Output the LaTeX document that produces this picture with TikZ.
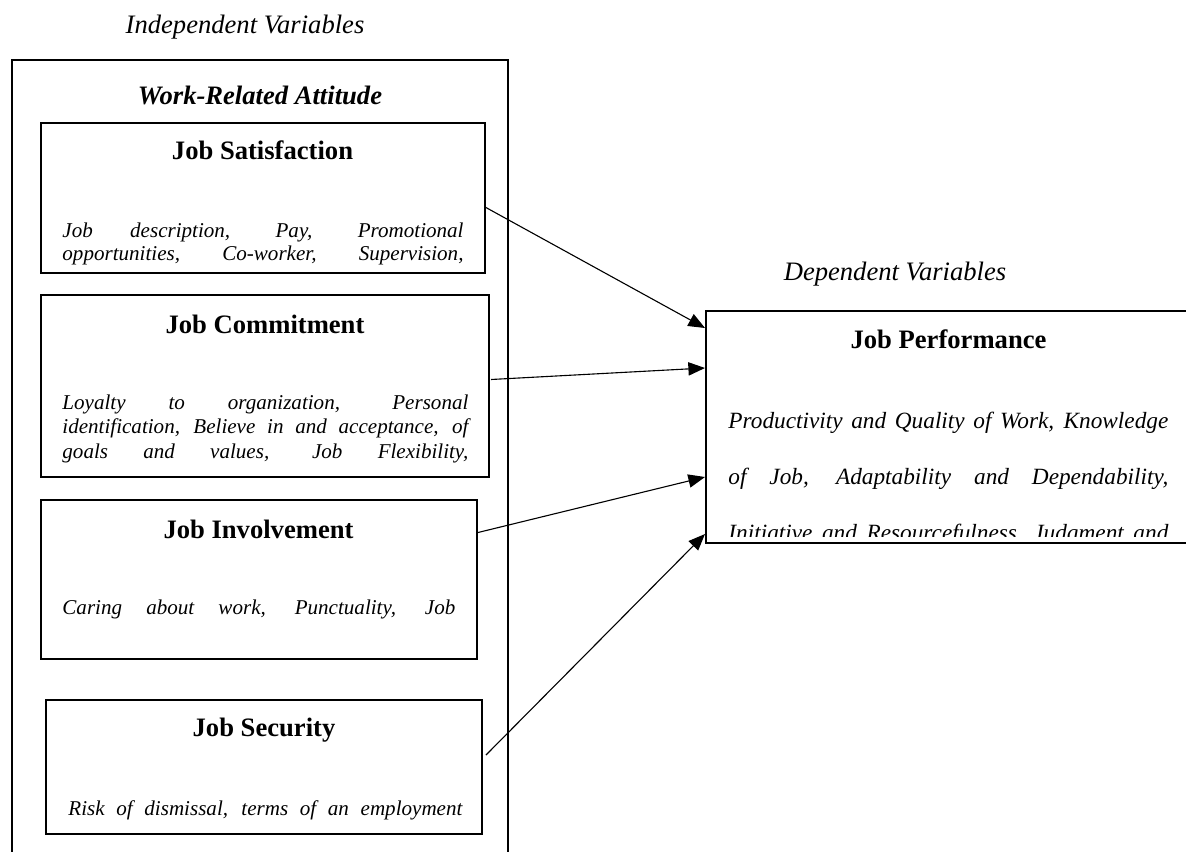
\documentclass[tikz,border=0pt]{standalone}
\usepackage{fontspec}
\setmainfont{Liberation Serif}
\usetikzlibrary{positioning,fit,calc,arrows.meta}

\begin{document}
\begin{tikzpicture}[x=0.451pt, y=-0.451pt, font=\fontsize{12}{14}\selectfont,
block/.style = {rectangle, draw=black, line width=0.9pt, inner sep=0pt},
head/.style = {anchor=base, font=\fontsize{12}{14}\selectfont\bfseries},
vartitle/.style = {anchor=base, font=\fontsize{12}{14}\selectfont\itshape},
desc/.style = {anchor=base west, inner sep=0pt, align=justify,
  execute at begin node={\tolerance=10000\hbadness=10000},
  font=\fontsize{9.5}{#1}\selectfont\itshape},
desc/.default = 12,
link/.style = {-{Triangle[length=7.5pt,width=6pt]}, line width=0.5pt}]
\useasboundingbox (0,0) rectangle (1186,851);

\node[vartitle] at (245,34) (iv) {Independent Variables};
\node[block, fit={(12,60) (508,870)}] (wra) {};
\node[head, font=\fontsize{12}{14}\selectfont\bfseries\itshape] at (260,104) (wrat) {Work-Related Attitude};

\node[block, fit={(41,123) (485,273)}] (sat) {};
\node[head] at (262.5,159) (satt) {Job Satisfaction};
\begin{scope}
\clip ($(sat.south west)+(0,-9)$) rectangle (sat.north east);
\node[desc=10.4, text width=180.9pt] at (62,237) (satd) {Job description, Pay, Promotional\linebreak
  opportunities, Co-worker, Supervision,\linebreak};
\end{scope}

\node[block, fit={(41,295) (489,477)}] (com) {};
\node[head] at (265,333) (comt) {Job Commitment};
\node[desc=11.05, text width=183.1pt] at (62,409) (comd) {Loyalty to organization, Personal\linebreak
  identification, Believe in and acceptance, of\linebreak goals and values, Job Flexibility,\linebreak};

\node[block, fit={(41,500) (477,659)}] (inv) {};
\node[head] at (258.5,538) (invt) {Job Involvement};
\node[desc, text width=177.2pt] at (62,614) (invd) {Caring about work, Punctuality, Job\linebreak};

\node[block, fit={(46,700) (482,834)}] (sec) {};
\node[head] at (264,736) (sect) {Job Security};
\node[desc, text width=177.7pt] at (68,815) (secd) {Risk of dismissal, terms of an employment\linebreak};

\node[vartitle] at (895,280) (dv) {Dependent Variables};
\node[block, fit={(706,311) (1189,543)}] (perf) {};
\node[head] at (948.5,348) (perft) {Job Performance};
\begin{scope}
\clip ($(perf.south west)+(0,-8)$) rectangle (perf.north east);
\node[desc=25.26, text width=198.4pt, font=\fontsize{10.5}{25.26}\selectfont\itshape] at (728,428) (perfd)
  {Productivity and Quality of Work, Knowledge\linebreak
  of Job, Adaptability and Dependability,\linebreak Initiative and Resourcefulness, Judgment and\linebreak};
\end{scope}

\draw[link] ($(sat.east)+(-1,9)$) -- ($(perf.west)+(0,-99)$);
\draw[link] ($(com.east)+(1,-6.5)$) -- ($(perf.west)+(0,-59)$);
\draw[link] ($(inv.east)+(0,-47)$) -- ($(perf.west)+(0,50)$);
\draw[link] ($(sec.east)+(3,-12)$) -- ($(perf.west)+(0,107)$);
\end{tikzpicture}
\end{document}
